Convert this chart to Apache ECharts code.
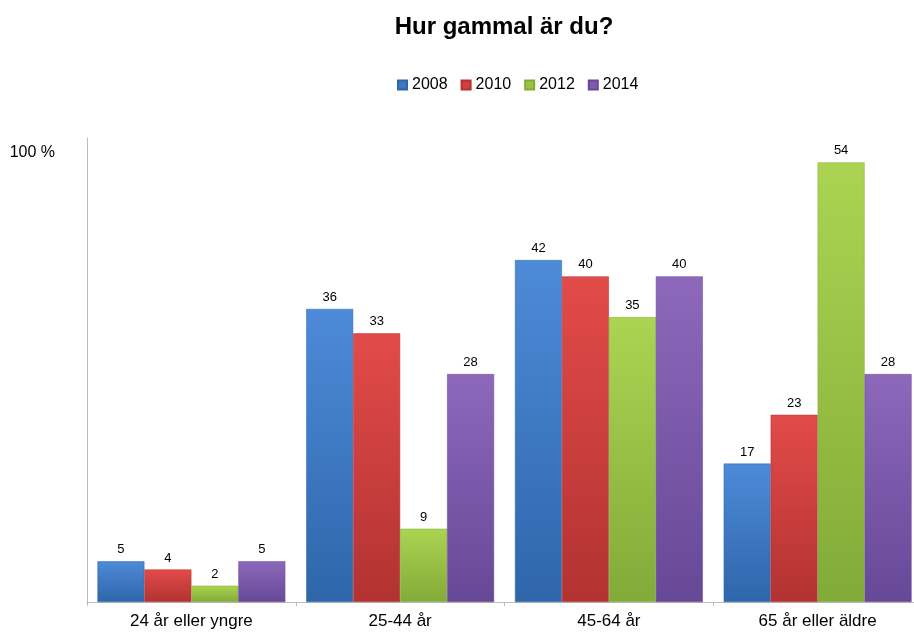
<!DOCTYPE html>
<html><head><meta charset="utf-8">
<script src="https://cdn.jsdelivr.net/npm/echarts@6/dist/echarts.min.js"></script>
<style>html,body{margin:0;padding:0;background:#fff}#c{width:914px;height:633px}</style>
</head><body><div id="c"></div>
<script>
var categories = ['24 år eller yngre', '25-44 år', '45-64 år', '65 år eller äldre'];
var seriesNames = ['2008', '2010', '2012', '2014'];
var v2008 = [5, 36, 42, 17];
var v2010 = [4, 33, 40, 23];
var v2012 = [2, 9, 35, 54];
var v2014 = [5, 28, 40, 28];
var yTickLabel = '100 %';
var yTickValue = 55.2;

var seriesValues = [v2008, v2010, v2012, v2014];
var colors = [
  ['#4d8ad8', '#2f66aa', '#3f78c4'],
  ['#e24b49', '#b23232', '#d43f3d'],
  ['#acd452', '#82aa38', '#9cc444'],
  ['#8d68bb', '#674897', '#7d5aab']
];
var chart = echarts.init(document.getElementById('c'));
var font = 'Liberation Sans, Arial, sans-serif';
chart.setOption({
  animation: false,
  title: {text: 'Hur gammal är du?', left: 499, textAlign: 'center', top: 10,
    textStyle: {fontFamily: font, fontSize: 24, fontWeight: 'bold', color: '#000'}},
  legend: {top: 77, left: 397, padding: 0, itemWidth: 9, itemHeight: 9, itemGap: 13,
    icon: 'rect',
    textStyle: {fontFamily: font, fontSize: 16, color: '#000'},
    data: seriesNames},
  grid: {left: 87, width: 835, top: 138, height: 464, containLabel: false, outerBoundsMode: 'none'},
  xAxis: {type: 'category', data: categories,
    axisLine: {lineStyle: {color: '#bbbbbb', width: 1}},
    axisTick: {show: true, length: 4, lineStyle: {color: '#bbbbbb'}},
    axisLabel: {fontFamily: font, fontSize: 17, color: '#000', margin: 11}},
  yAxis: {type: 'value', min: 0, max: 57, interval: yTickValue,
    splitLine: {show: false},
    axisLine: {show: true, lineStyle: {color: '#bbbbbb', width: 1}},
    axisTick: {show: false},
    axisLabel: {fontFamily: font, fontSize: 16, color: '#000', margin: 32,
      formatter: function (v) { return Math.abs(v - yTickValue) < 0.01 ? yTickLabel : ''; }}},
  series: seriesNames.map(function (n, i) {
    return {
      name: n, type: 'bar', data: seriesValues[i],
      barGap: '0%', barCategoryGap: '10%',
      itemStyle: {
        color: new echarts.graphic.LinearGradient(0, 0, 0, 1, [
          {offset: 0, color: colors[i][0]}, {offset: 1, color: colors[i][1]}]),
        borderColor: colors[i][1], borderWidth: 0.5
      },
      label: {show: true, position: 'top', distance: 5,
        fontFamily: font, fontSize: 13, color: '#000'}
    };
  })
});
chart.setOption({legend: {data: seriesNames.map(function (n, i) {
  return {name: n, itemStyle: {color: colors[i][2]}};
})}});
</script></body></html>
